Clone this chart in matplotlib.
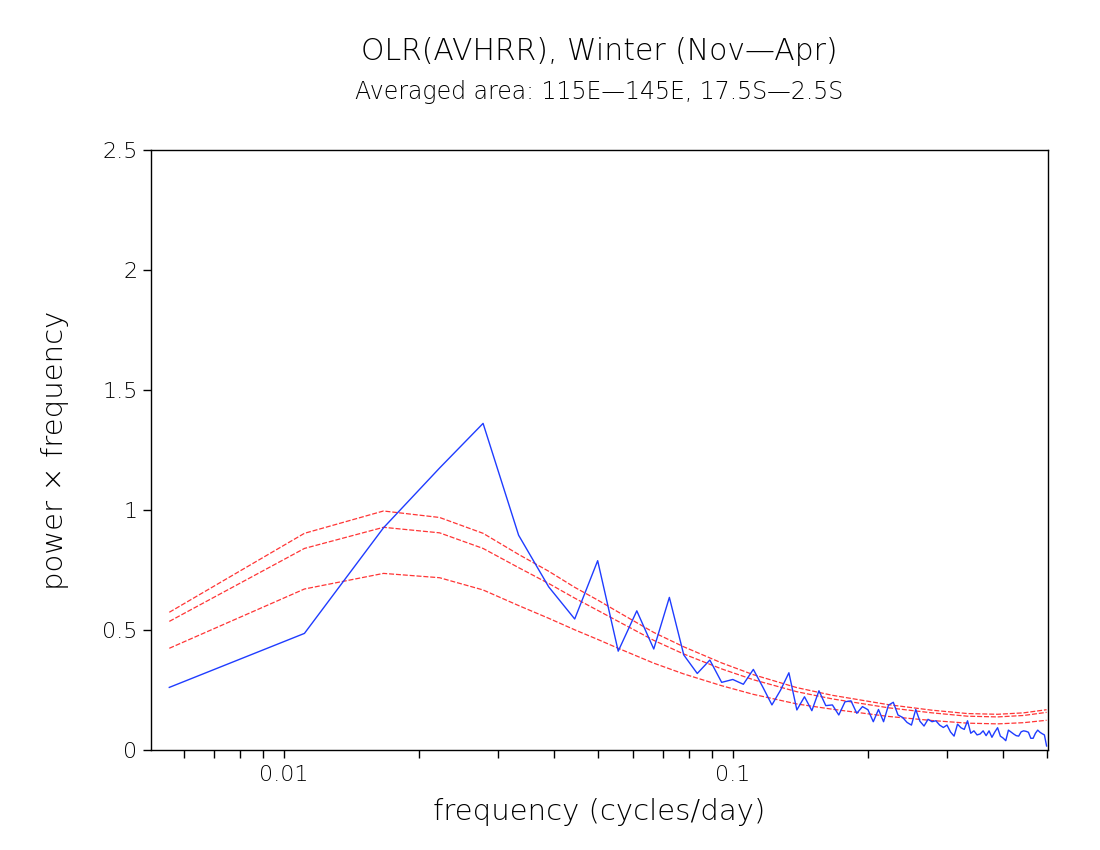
import matplotlib
matplotlib.use('Agg')
import matplotlib.pyplot as plt
import numpy as np
from matplotlib.ticker import LogLocator, FixedLocator, NullFormatter

# Winter season length (days) -> spectral frequencies k/ndays, k=1..90
ndays = 180
harmonics = np.arange(1, 91)
freq = harmonics / ndays

# power x frequency of the OLR spectrum
spectrum = [0.261, 0.486, 0.926, 1.175, 1.361, 0.895, 0.680, 0.546, 0.789, 0.412,
            0.580, 0.421, 0.636, 0.396, 0.319, 0.375, 0.282, 0.294, 0.274, 0.336,
            0.262, 0.188, 0.250, 0.322, 0.167, 0.222, 0.164, 0.247, 0.185, 0.188,
            0.146, 0.201, 0.205, 0.153, 0.181, 0.168, 0.118, 0.169, 0.118, 0.187,
            0.199, 0.146, 0.136, 0.115, 0.104, 0.169, 0.120, 0.100, 0.128, 0.118,
            0.122, 0.104, 0.094, 0.104, 0.075, 0.058, 0.108, 0.093, 0.086, 0.122,
            0.070, 0.080, 0.063, 0.067, 0.080, 0.060, 0.080, 0.053, 0.075, 0.093,
            0.058, 0.050, 0.039, 0.083, 0.075, 0.067, 0.060, 0.058, 0.076, 0.080,
            0.078, 0.074, 0.049, 0.049, 0.070, 0.083, 0.074, 0.068, 0.063, 0.017]

# red noise background and the two confidence levels, at a subset of harmonics
red_k = [1, 2, 3, 4, 5, 6, 7, 8, 9, 10, 12, 14, 17, 20, 25, 30, 40, 50, 60, 70, 80, 90]
red_upper = [0.574, 0.903, 0.996, 0.969, 0.903, 0.815, 0.745, 0.678, 0.625, 0.575,
             0.490, 0.430, 0.363, 0.314, 0.260, 0.228, 0.189, 0.166, 0.152, 0.149,
             0.155, 0.168]
red_mid = [0.536, 0.840, 0.928, 0.905, 0.840, 0.760, 0.694, 0.633, 0.582, 0.536,
           0.457, 0.400, 0.338, 0.293, 0.243, 0.213, 0.176, 0.155, 0.141, 0.138,
           0.144, 0.157]
red_low = [0.424, 0.671, 0.736, 0.718, 0.667, 0.602, 0.549, 0.501, 0.461, 0.424,
           0.362, 0.317, 0.268, 0.232, 0.192, 0.170, 0.140, 0.123, 0.112, 0.109,
           0.114, 0.124]

red_freq = np.array(red_k) / ndays

fig = plt.figure(figsize=(11, 8.5), dpi=100)
ax = fig.add_axes([0.137, 0.1176, 0.8155, 0.7059])

for curve in [red_upper, red_mid, red_low]:
    ax.plot(red_freq, curve, color='#ff3535', lw=0.9, dashes=(4, 1.5))
ax.plot(freq, spectrum, color='#1f3cff', lw=1.0)

ax.set_xscale('log')
ax.set_xlim(0.00505, 0.503)
ax.set_ylim(0, 2.5)

ax.xaxis.set_major_locator(FixedLocator([0.01, 0.1]))
ax.xaxis.set_minor_locator(LogLocator(base=10, subs=np.arange(2, 10)))
ax.xaxis.set_minor_formatter(NullFormatter())
ax.set_xticklabels(['0.01', '0.1'])
ax.set_yticks([0, 0.5, 1, 1.5, 2, 2.5])
ax.set_yticklabels(['0', '0.5', '1', '1.5', '2', '2.5'])

ax.tick_params(which='both', direction='out', length=6, width=1, labelsize=16,
               top=False, right=False, color='black')
ax.tick_params(axis='x', pad=5)
for lab in ax.get_xticklabels() + ax.get_yticklabels():
    lab.set_fontweight('light')
for s in ax.spines.values():
    s.set_linewidth(1.0)

fig.text(0.545, 0.939, 'OLR(AVHRR), Winter (Nov\u2014Apr)', ha='center', va='center',
         fontsize=21.5, fontweight='light')
fig.text(0.545, 0.892, 'Averaged area: 115E\u2014145E, 17.5S\u20142.5S', ha='center',
         va='center', fontsize=17, fontweight='light')
fig.text(0.545, 0.045, 'frequency (cycles/day)', ha='center', va='center', fontsize=21,
         fontweight='light')
fig.text(0.05, 0.47, 'power \u00d7 frequency', ha='center', va='center', fontsize=21,
         rotation=90, fontweight='light')

fig.savefig('out.png', dpi=100)
